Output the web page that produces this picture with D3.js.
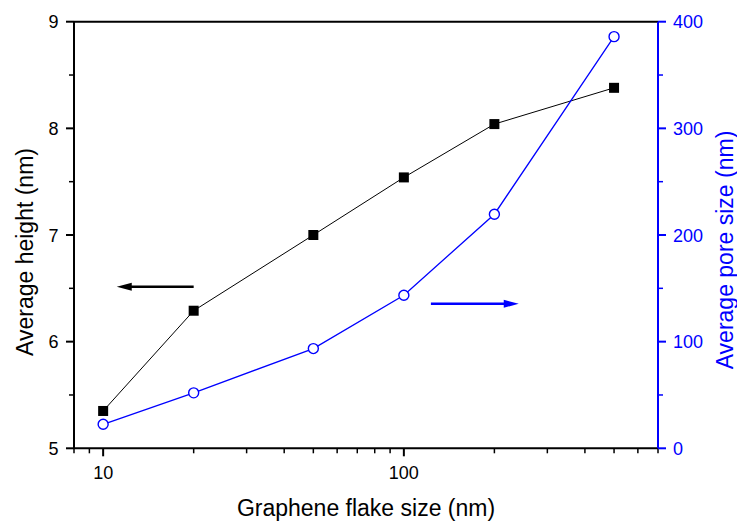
<!DOCTYPE html>
<html>
<head>
    <meta charset="utf-8" />
    <title>Flake size vs height and pore size</title>
    <script src="https://cdn.jsdelivr.net/npm/d3@7"></script>
    <style>
        body { margin: 0; background: #fff; }
        svg { font-family: Arial, "Liberation Sans", sans-serif; }
    </style>
</head>
<body>
    <svg id="chart" width="737" height="523"></svg>
    <script>
        // values
        const flakeSize = [10, 20, 50, 100, 200, 500];
        const avgHeight = [5.35, 6.29, 7.00, 7.54, 8.04, 8.38];
        const avgPore = [22.5, 52, 93.5, 143.5, 219.5, 386];
        const xTicks = [10, 100];
        const heightTicks = [5, 6, 7, 8, 9];
        const poreTicks = [0, 100, 200, 300, 400];
        // arrows: [x0, x1, y] in data units
        const heightArrow = [20, 11.1, 6.515];
        const poreArrow = [123, 241, 135.5];

        const blue = '#0000ff';
        const pLeft = 74, pRight = 658, pTop = 21.7, pBottom = 448.3;

        const svg = d3.select('#chart');

        const x = d3.scaleLog().domain([8, 700]).range([pLeft, pRight]);
        const yL = d3.scaleLinear().domain([5, 9]).range([pBottom, pTop]);
        const yR = d3.scaleLinear().domain([0, 400]).range([pBottom, pTop]);

        // minor ticks on log axis
        const xMinor = [];
        [1, 10, 100].forEach(dec => {
            for (let k = 1; k <= 9; k++) {
                const v = dec * k;
                if (v >= 8 && v <= 700 && !xTicks.includes(v)) xMinor.push(v);
            }
        });

        // bottom axis
        const gx = svg.append('g').attr('transform', `translate(0,${pBottom})`);
        gx.append('line').attr('x1', pLeft).attr('x2', pRight)
            .attr('stroke', '#000').attr('stroke-width', 2);
        gx.selectAll('.maj').data(xTicks).enter().append('line')
            .attr('x1', d => x(d)).attr('x2', d => x(d))
            .attr('y1', 0).attr('y2', 8)
            .attr('stroke', '#000').attr('stroke-width', 2);
        gx.selectAll('.min').data(xMinor).enter().append('line')
            .attr('x1', d => x(d)).attr('x2', d => x(d))
            .attr('y1', 0).attr('y2', 5)
            .attr('stroke', '#000').attr('stroke-width', 1.5);
        gx.selectAll('text').data(xTicks).enter().append('text')
            .attr('x', d => x(d)).attr('y', 30.5)
            .attr('text-anchor', 'middle').attr('font-size', 18)
            .text(d => d);

        // top frame line
        svg.append('line').attr('x1', pLeft).attr('x2', pRight)
            .attr('y1', pTop).attr('y2', pTop)
            .attr('stroke', '#000').attr('stroke-width', 2);

        // left axis
        const gl = svg.append('g').attr('transform', `translate(${pLeft},0)`);
        gl.append('line').attr('y1', pTop).attr('y2', pBottom)
            .attr('stroke', '#000').attr('stroke-width', 2);
        gl.selectAll('.maj').data(heightTicks).enter().append('line')
            .attr('y1', d => yL(d)).attr('y2', d => yL(d))
            .attr('x1', 0).attr('x2', -8)
            .attr('stroke', '#000').attr('stroke-width', 2);
        gl.selectAll('.min').data(d3.range(5.5, 9, 1)).enter().append('line')
            .attr('y1', d => yL(d)).attr('y2', d => yL(d))
            .attr('x1', 0).attr('x2', -5)
            .attr('stroke', '#000').attr('stroke-width', 1.5);
        gl.selectAll('text').data(heightTicks).enter().append('text')
            .attr('x', -15.5).attr('y', d => yL(d) + 6.5)
            .attr('text-anchor', 'end').attr('font-size', 18)
            .text(d => d);

        // right axis
        const gr = svg.append('g').attr('transform', `translate(${pRight},0)`);
        gr.append('line').attr('y1', pTop).attr('y2', pBottom)
            .attr('stroke', blue).attr('stroke-width', 2);
        gr.selectAll('.maj').data(poreTicks).enter().append('line')
            .attr('y1', d => yR(d)).attr('y2', d => yR(d))
            .attr('x1', 0).attr('x2', 8)
            .attr('stroke', blue).attr('stroke-width', 2);
        gr.selectAll('.min').data(d3.range(50, 400, 100)).enter().append('line')
            .attr('y1', d => yR(d)).attr('y2', d => yR(d))
            .attr('x1', 0).attr('x2', 5)
            .attr('stroke', blue).attr('stroke-width', 1.5);
        gr.selectAll('text').data(poreTicks).enter().append('text')
            .attr('x', 15).attr('y', d => yR(d) + 6.5)
            .attr('font-size', 18).attr('fill', blue)
            .text(d => d);

        // axis titles
        svg.append('text')
            .attr('x', 366).attr('y', 516)
            .attr('text-anchor', 'middle').attr('font-size', 23)
            .text('Graphene flake size (nm)');
        svg.append('text')
            .attr('transform', 'translate(33,252) rotate(-90)')
            .attr('text-anchor', 'middle').attr('font-size', 23)
            .text('Average height (nm)');
        svg.append('text')
            .attr('transform', 'translate(733,250) rotate(-90)')
            .attr('text-anchor', 'middle').attr('font-size', 23)
            .attr('fill', blue)
            .text('Average pore size (nm)');

        // series
        const hData = flakeSize.map((s, i) => [s, avgHeight[i]]);
        const pData = flakeSize.map((s, i) => [s, avgPore[i]]);

        svg.append('path').datum(hData)
            .attr('d', d3.line().x(d => x(d[0])).y(d => yL(d[1])))
            .attr('fill', 'none').attr('stroke', '#000').attr('stroke-width', 1);
        svg.append('path').datum(pData)
            .attr('d', d3.line().x(d => x(d[0])).y(d => yR(d[1])))
            .attr('fill', 'none').attr('stroke', blue).attr('stroke-width', 1.3);

        svg.append('g').selectAll('rect').data(hData).enter().append('rect')
            .attr('x', d => x(d[0]) - 5).attr('y', d => yL(d[1]) - 5)
            .attr('width', 10).attr('height', 10).attr('fill', '#000');
        svg.append('g').selectAll('circle').data(pData).enter().append('circle')
            .attr('cx', d => x(d[0])).attr('cy', d => yR(d[1]))
            .attr('r', 5).attr('fill', '#fff')
            .attr('stroke', blue).attr('stroke-width', 1.4);

        // arrows
        function arrow(x0, x1, y, color) {
            const dir = x1 > x0 ? 1 : -1;
            svg.append('line')
                .attr('x1', x0).attr('x2', x1 - dir * 10)
                .attr('y1', y).attr('y2', y)
                .attr('stroke', color).attr('stroke-width', 2.5);
            svg.append('path')
                .attr('d', `M${x1},${y} L${x1 - dir * 15},${y - 4} L${x1 - dir * 15},${y + 4} Z`)
                .attr('fill', color);
        }
        arrow(x(heightArrow[0]), x(heightArrow[1]), yL(heightArrow[2]), '#000');
        arrow(x(poreArrow[0]), x(poreArrow[1]), yR(poreArrow[2]), blue);
    </script>
</body>
</html>
